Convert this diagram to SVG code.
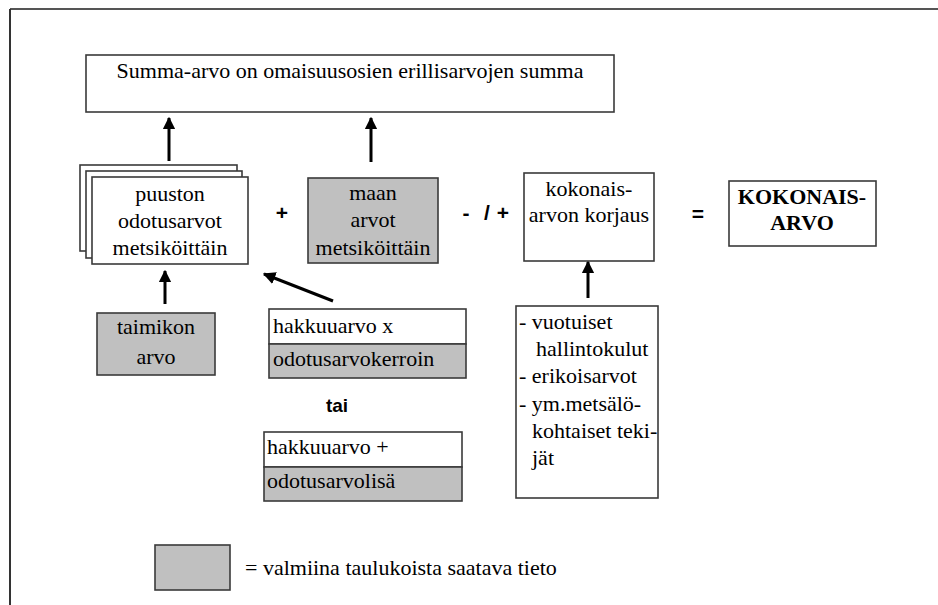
<svg xmlns="http://www.w3.org/2000/svg" width="938" height="605" viewBox="0 0 938 605">
<style>
.box{fill:#fff;stroke:#3a3a3a;stroke-width:1.6}
.gray{fill:#c0c0c0;stroke:#3a3a3a;stroke-width:1.6}
.t{font-family:"Liberation Serif","Times New Roman",serif;font-size:22px;fill:#000}
.c{text-anchor:middle}
.b{font-weight:bold}
.s{font-family:"Liberation Sans",Arial,sans-serif;font-size:21px;font-weight:bold;fill:#000}
.arr{stroke:#000;stroke-width:3;fill:none;marker-end:url(#ah)}
</style>
<defs>
<marker id="ah" viewBox="0 0 10 10" refX="9" refY="5" markerWidth="4.2" markerHeight="4.2" orient="auto" markerUnits="strokeWidth">
<path d="M0,0 L10,5 L0,10 z" fill="#000"/>
</marker>
</defs>
<rect width="938" height="605" fill="#fff"/>
<g id="frame">
<line x1="10" y1="9" x2="938" y2="9" stroke="#555" stroke-width="2"/>
<line x1="10" y1="9" x2="10" y2="605" stroke="#333" stroke-width="2"/>
</g>
<g id="summa">
<rect class="box" x="86" y="55" width="528" height="57"/>
<text class="t c" x="350" y="78">Summa-arvo on omaisuusosien erillisarvojen summa</text>
</g>
<g id="puuston">
<rect class="box" x="80" y="165" width="157" height="86"/>
<rect class="box" x="86" y="171" width="156" height="87"/>
<rect class="box" x="92" y="177" width="156" height="87"/>
<text class="t c" x="170" y="201">puuston</text>
<text class="t c" x="170" y="228">odotusarvot</text>
<text class="t c" x="170" y="255">metsiköittäin</text>
</g>
<g id="op1"><text class="s c" x="282" y="220">+</text></g>
<g id="maan">
<rect class="gray" x="308" y="178" width="130" height="85"/>
<text class="t c" x="373" y="200">maan</text>
<text class="t c" x="373" y="227">arvot</text>
<text class="t c" x="373" y="255">metsiköittäin</text>
</g>
<g id="op2">
<text class="s c" x="466" y="220">-</text>
<text class="s c" x="487" y="220">/</text>
<text class="s c" x="503" y="220">+</text>
</g>
<g id="korjaus">
<rect class="box" x="524" y="173" width="130" height="88"/>
<text class="t c" x="589" y="196">kokonais-</text>
<text class="t c" x="589" y="222">arvon korjaus</text>
</g>
<g id="op3"><text class="s c" x="698" y="221">=</text></g>
<g id="kokonaisarvo">
<rect class="box" x="729" y="181" width="147" height="65"/>
<text class="t c b" x="802" y="204">KOKONAIS-</text>
<text class="t c b" x="802" y="230">ARVO</text>
</g>
<g id="taimikon">
<rect class="gray" x="97" y="313" width="118" height="62"/>
<text class="t c" x="156" y="334">taimikon</text>
<text class="t c" x="156" y="364">arvo</text>
</g>
<g id="hakkuu1">
<rect class="box" x="269" y="309" width="197" height="35"/>
<rect class="gray" x="269" y="344" width="197" height="34"/>
<text class="t" x="273" y="333">hakkuuarvo x</text>
<text class="t" x="273" y="366">odotusarvokerroin</text>
</g>
<g id="tai"><text class="s c" x="337" y="412" style="font-size:19px">tai</text></g>
<g id="hakkuu2">
<rect class="box" x="264" y="432" width="198" height="35"/>
<rect class="gray" x="264" y="467" width="198" height="34"/>
<text class="t" x="267" y="454">hakkuuarvo +</text>
<text class="t" x="267" y="488">odotusarvolisä</text>
</g>
<g id="lista">
<rect class="box" x="516" y="306" width="142" height="192"/>
<text class="t" x="519" y="329">- vuotuiset</text>
<text class="t" x="536" y="356">hallintokulut</text>
<text class="t" x="519" y="383">- erikoisarvot</text>
<text class="t" x="519" y="411">- ym.metsälö-</text>
<text class="t" x="532" y="438">kohtaiset teki-</text>
<text class="t" x="532" y="465">jät</text>
</g>
<g id="legend">
<rect class="gray" x="155" y="545" width="75" height="45"/>
<text class="t" x="245" y="575">= valmiina taulukoista saatava tieto</text>
</g>
<g id="connectors">
<line class="arr" x1="169" y1="161" x2="169" y2="118"/>
<line class="arr" x1="371" y1="162" x2="371" y2="118"/>
<line class="arr" x1="165" y1="304" x2="165" y2="271"/>
<line class="arr" x1="333" y1="301" x2="264" y2="274"/>
<line class="arr" x1="588" y1="298" x2="588" y2="262"/>
</g>
</svg>
